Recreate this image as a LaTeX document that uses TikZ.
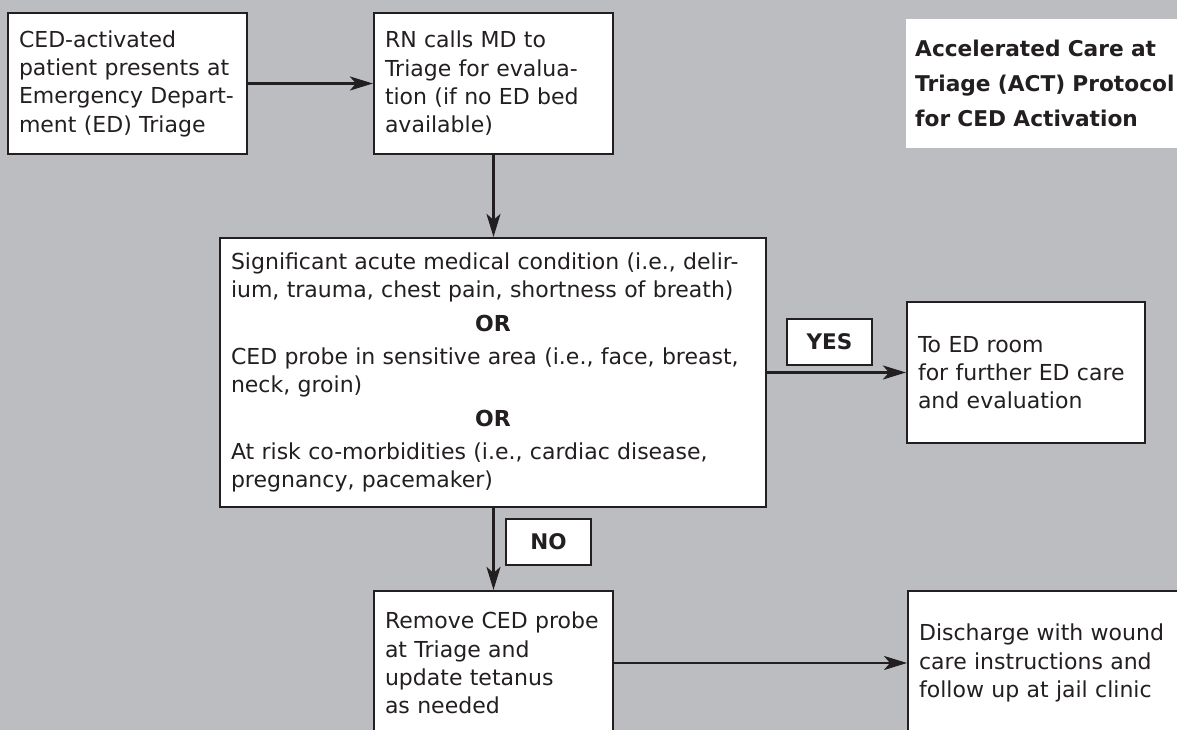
\documentclass[tikz,border=0pt]{standalone}
\usepackage{fontspec}
\setmainfont{DejaVu Sans}
\usetikzlibrary{arrows.meta}
\definecolor{bg}{HTML}{BCBDC0}
\definecolor{ink}{HTML}{231F20}
\newcommand{\orline}{\makebox[\linewidth][c]{\bfseries OR}}
\tikzset{
  box/.style={draw=ink, line width=2.2pt, fill=white, rectangle, align=left,
    inner xsep=11pt, inner ysep=0pt, text=ink,
    font=\fontsize{22}{28.3}\selectfont},
  tag/.style={draw=ink, line width=2.2pt, fill=white, rectangle, text=ink,
    minimum width=85pt, minimum height=46pt, inner sep=0pt,
    font=\fontsize{21.5}{25}\selectfont\bfseries},
  arr/.style={draw=ink, line width=2.4pt,
    -{Stealth[length=23pt,width=14pt,inset=6pt]}},
}
\begin{document}
\begin{tikzpicture}[x=1pt,y=-1pt]
\useasboundingbox (0,0) rectangle (1177,730);
\clip (0,0) rectangle (1177,730);
\fill[bg] (0,0) rectangle (1177,730);

\node[box, text width=217pt, minimum width=239pt, minimum height=141pt] (b1) at (127.5,83.5)
  {CED-activated\\patient presents at\\Emergency Depart-\\ment (ED) Triage};
\node[box, text width=217pt, minimum width=239pt, minimum height=141pt] (b2) at (493.5,83.5)
  {RN calls MD to\\Triage for evalua-\\tion (if no ED bed\\available)};
\node[fill=white, rectangle, anchor=west, inner xsep=9pt, inner ysep=0pt,
  text width=264pt, minimum height=129pt, align=left, text=ink,
  font=\fontsize{21.7}{35}\selectfont\bfseries] (title) at (906,83.5)
  {Accelerated Care at\\Triage (ACT) Protocol\\for CED Activation};

\node[box, text width=524pt, minimum width=546pt, minimum height=269pt] (b3) at (493,372.5)
  {Significant acute medical condition (i.e., delir-\\
   ium, trauma, chest pain, shortness of breath)\\[5pt]
   \orline\\[5pt]
   CED probe in sensitive area (i.e., face, breast,\\
   neck, groin)\\[5pt]
   \orline\\[5pt]
   At risk co-morbidities (i.e., cardiac disease,\\
   pregnancy, pacemaker)};

\node[box, text width=216pt, minimum width=238pt, minimum height=141pt] (ed) at (1026,372.5)
  {To ED room\\for further ED care\\and evaluation};

\node[box, text width=217pt, minimum width=239pt, minimum height=144pt] (b4) at (493.5,663)
  {Remove CED probe\\at Triage and\\update tetanus\\as needed};
\node[box, anchor=west, text width=278pt, minimum width=300pt, minimum height=144pt] (b5) at (907,663)
  {Discharge with wound\\care instructions and\\follow up at jail clinic};

\node[tag] (yes) at (829.5,342) {YES};
\node[tag] (no) at (548.5,542) {NO};

\draw[arr] (b1.east) -- (b2.west);
\draw[arr] (b2.south) -- (b3.north -| b2.south);
\draw[arr] (b3.east) -- (ed.west);
\draw[arr] (b3.south -| b4.north) -- (b4.north);
\draw[arr] (b4.east) -- (b5.west);
\end{tikzpicture}
\end{document}
